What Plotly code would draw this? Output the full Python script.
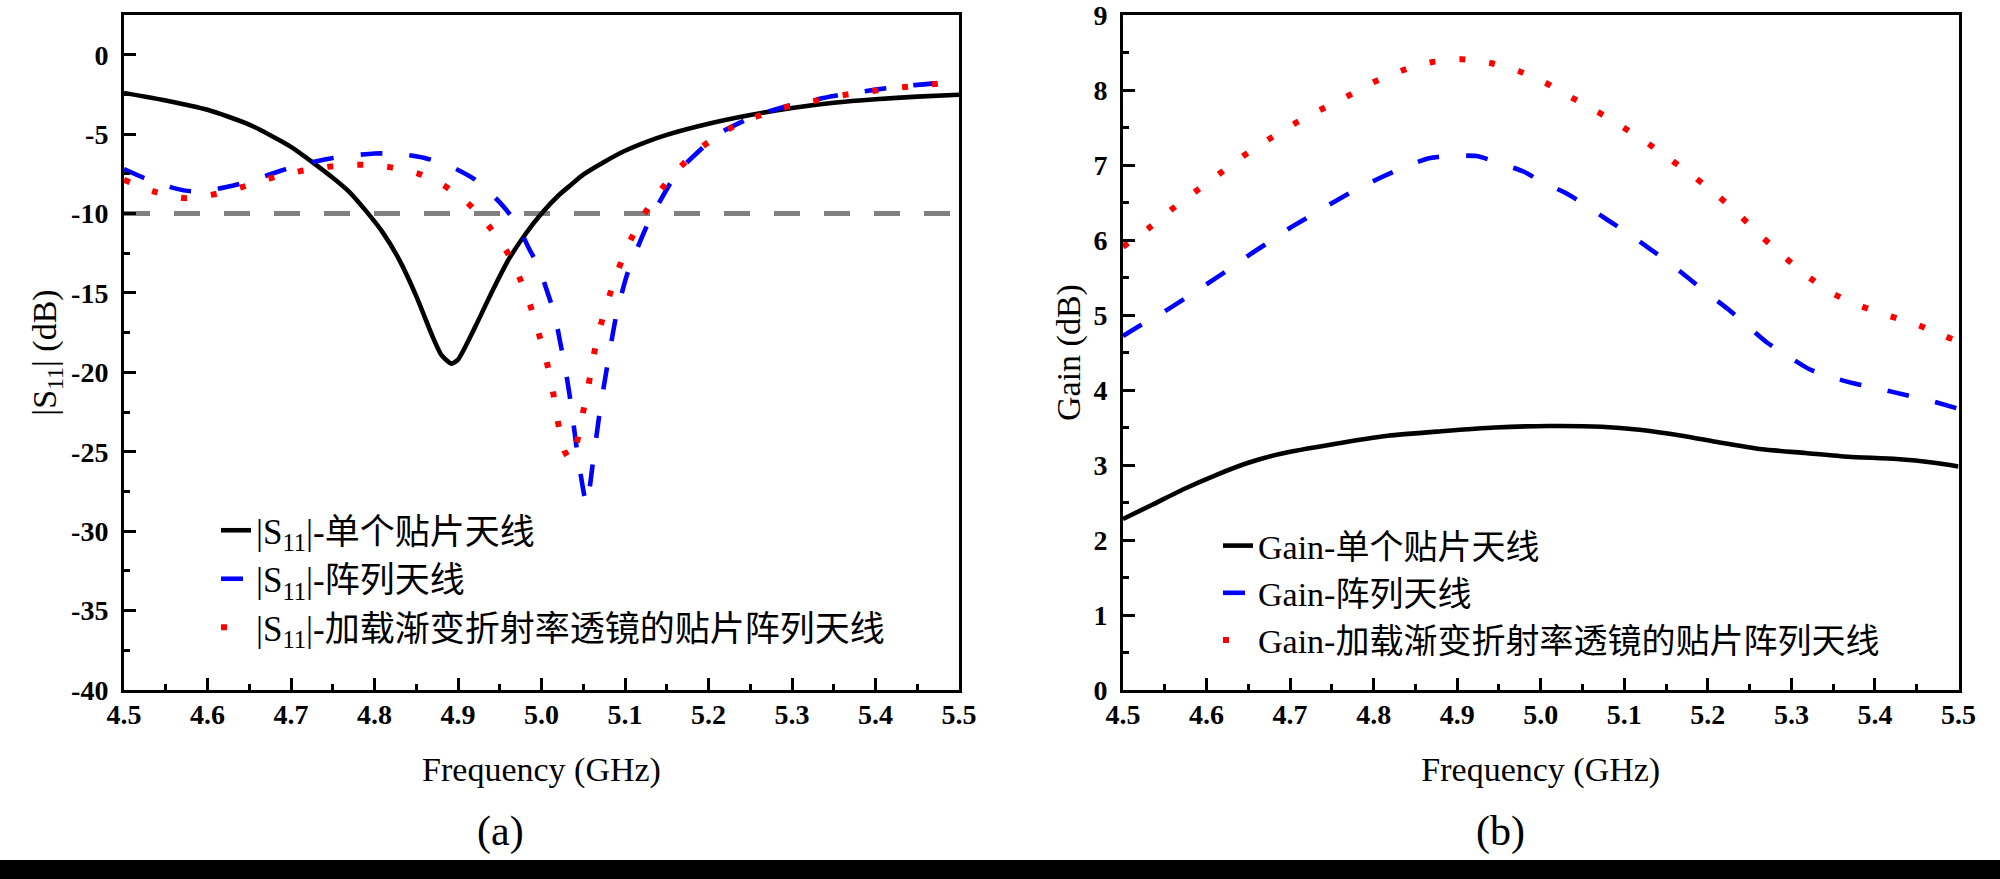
import plotly.graph_objects as go

# ---------------- data ----------------
# (a) |S11| (dB)
freq_s11_single = [4.50, 4.55, 4.60, 4.65, 4.70, 4.75, 4.77, 4.79, 4.81, 4.83, 4.85, 4.87, 4.88, 4.892,
                   4.90, 4.92, 4.94, 4.96, 4.98, 5.00, 5.02, 5.034, 5.05, 5.075, 5.10, 5.125, 5.15, 5.20, 5.25,
                   5.30, 5.35, 5.40, 5.45, 5.50]
s11_single = [-2.41, -2.88, -3.47, -4.4, -5.8, -7.75, -8.65, -9.85, -11.2, -12.95, -15.2, -17.8, -18.9, -19.45,
              -19.2, -17.2, -15.0, -12.95, -11.35, -10.0, -8.88, -8.25, -7.55, -6.75, -6.05, -5.5, -5.05, -4.35,
              -3.8, -3.35, -3.02, -2.8, -2.64, -2.52]

freq_s11_array = [4.50, 4.53, 4.56, 4.58, 4.60, 4.63, 4.66, 4.70, 4.75, 4.80, 4.83, 4.86, 4.89, 4.92, 4.95,
                  4.97, 4.985, 4.997, 5.008, 5.016, 5.022, 5.028, 5.035, 5.043, 5.054, 5.062, 5.07, 5.08,
                  5.09, 5.103, 5.126, 5.14, 5.162, 5.19, 5.214, 5.254, 5.30, 5.35, 5.40, 5.45, 5.50]
s11_array = [-7.2, -7.9, -8.4, -8.6, -8.55, -8.25, -7.8, -7.1, -6.5, -6.22, -6.25, -6.5, -7.0, -7.85, -9.3,
             -10.6, -12.2, -13.4, -15.1, -16.4, -18.0, -19.6, -21.9, -25.1, -28.3, -25.5, -22.4, -19.2,
             -16.3, -13.76, -10.8, -9.4, -7.46, -6.0, -4.93, -3.89, -3.15, -2.6, -2.2, -1.9, -1.68]

freq_s11_lens = [4.50, 4.535, 4.572, 4.607, 4.641, 4.676, 4.711, 4.747, 4.783, 4.818, 4.853, 4.883, 4.911,
                 4.937, 4.958, 4.974, 4.987, 4.997, 5.007, 5.014, 5.020, 5.028, 5.035, 5.042, 5.049, 5.056,
                 5.062, 5.070, 5.080, 5.091, 5.104, 5.120, 5.139, 5.161, 5.189, 5.220, 5.250, 5.286, 5.322,
                 5.357, 5.393, 5.427, 5.463, 5.50]
s11_lens = [-7.88, -8.6, -9.03, -8.8, -8.34, -7.77, -7.33, -7.04, -6.93, -7.08, -7.5, -8.23, -9.3,
            -10.8, -12.35, -14.07, -15.85, -17.6, -19.5, -21.3, -23.2, -25.0, -25.5, -24.5, -22.7, -20.9,
            -19.05, -17.2, -15.4, -13.65, -11.97, -10.3, -8.78, -7.35, -5.94, -4.79, -4.05, -3.38, -2.96,
            -2.58, -2.31, -2.08, -1.89, -1.68]

ref_freq = [4.5, 5.5]
ref_level = [-10, -10]

# (b) Gain (dB)
freq_gain_single = [4.50, 4.535, 4.573, 4.612, 4.650, 4.689, 4.753, 4.817, 4.881, 4.945, 5.009, 5.073, 5.118,
                    5.169, 5.214, 5.265, 5.317, 5.368, 5.426, 5.471, 5.50]
gain_single = [2.28, 2.47, 2.68, 2.87, 3.03, 3.15, 3.28, 3.39, 3.45, 3.50, 3.52, 3.51, 3.47,
               3.39, 3.30, 3.21, 3.16, 3.11, 3.08, 3.03, 2.98]

freq_gain_array = [4.50, 4.522, 4.550, 4.574, 4.600, 4.623, 4.651, 4.673, 4.701, 4.724, 4.753, 4.777, 4.808,
                   4.832, 4.866, 4.890, 4.923, 4.947, 4.980, 4.999, 5.031, 5.053, 5.081, 5.103, 5.131, 5.151,
                   5.177, 5.197, 5.224, 5.244, 5.270, 5.292, 5.321, 5.345, 5.378, 5.404, 5.438, 5.462, 5.50]
gain_array = [4.72, 4.87, 5.05, 5.22, 5.41, 5.58, 5.80, 5.96, 6.17, 6.32, 6.51, 6.66, 6.83,
              6.95, 7.09, 7.12, 7.12, 7.04, 6.91, 6.79, 6.62, 6.47, 6.26, 6.10, 5.88, 5.72,
              5.49, 5.31, 5.08, 4.89, 4.64, 4.48, 4.28, 4.18, 4.08, 4.02, 3.93, 3.87, 3.75]

freq_gain_lens = [4.50, 4.530, 4.557, 4.586, 4.615, 4.644, 4.674, 4.705, 4.737, 4.769, 4.801, 4.834, 4.869,
                  4.905, 4.940, 4.974, 5.005, 5.037, 5.068, 5.099, 5.128, 5.157, 5.185, 5.213, 5.239, 5.265,
                  5.292, 5.319, 5.349, 5.383, 5.417, 5.451, 5.483, 5.50]
gain_lens = [5.91, 6.15, 6.40, 6.64, 6.88, 7.12, 7.34, 7.55, 7.74, 7.92, 8.11, 8.26, 8.37,
             8.41, 8.36, 8.25, 8.10, 7.90, 7.71, 7.50, 7.29, 7.06, 6.83, 6.58, 6.32, 6.04,
             5.77, 5.52, 5.29, 5.12, 4.99, 4.87, 4.72, 4.65]

names_a = ["|S<sub>11</sub>|-单个贴片天线", "|S<sub>11</sub>|-阵列天线",
           "|S<sub>11</sub>|-加载渐变折射率透镜的贴片阵列天线"]
names_b = ["Gain-单个贴片天线", "Gain-阵列天线", "Gain-加载渐变折射率透镜的贴片阵列天线"]

freq_ticks = [4.5, 4.6, 4.7, 4.8, 4.9, 5.0, 5.1, 5.2, 5.3, 5.4, 5.5]
freq_ticktext = ["4.5", "4.6", "4.7", "4.8", "4.9", "5.0", "5.1", "5.2", "5.3", "5.4", "5.5"]
s11_ticks = [-40, -35, -30, -25, -20, -15, -10, -5, 0]
s11_ticktext = ["-40", "-35", "-30", "-25", "-20", "-15", "-10", "-5", "0"]
gain_ticks = [0, 1, 2, 3, 4, 5, 6, 7, 8, 9]
gain_ticktext = ["0", "1", "2", "3", "4", "5", "6", "7", "8", "9"]

# ---------------- styles ----------------
W, H = 2000, 879
SERIF = "Liberation Serif, Times New Roman, serif"
MIXED = "Liberation Serif, Noto Sans CJK SC, serif"
styles = [
    dict(color="#000000", width=4.6, dash="solid"),
    dict(color="#0000FF", width=4.6, dash="22px,27px"),
    dict(color="#FF0000", width=6, dash="6px,24px"),
]

fig = go.Figure()

fig.add_trace(go.Scatter(x=ref_freq, y=ref_level, mode="lines", showlegend=False,
                         line=dict(color="#808080", width=5, dash="26px,24px"),
                         xaxis="x", yaxis="y", hoverinfo="skip"))

for xs, ys, nm, st in zip([freq_s11_single, freq_s11_array, freq_s11_lens],
                          [s11_single, s11_array, s11_lens], names_a, styles):
    fig.add_trace(go.Scatter(x=xs, y=ys, name=nm, mode="lines",
                             line=dict(shape="spline", smoothing=0.6, **st),
                             xaxis="x", yaxis="y", legend="legend"))

for xs, ys, nm, st in zip([freq_gain_single, freq_gain_array, freq_gain_lens],
                          [gain_single, gain_array, gain_lens], names_b, styles):
    fig.add_trace(go.Scatter(x=xs, y=ys, name=nm, mode="lines",
                             line=dict(shape="spline", smoothing=0.6, **st),
                             xaxis="x2", yaxis="y2", legend="legend2"))


def px_x(p):
    return p / W


def px_y(p):
    return 1 - p / H


tickfont = dict(family=SERIF, size=28, color="black", weight=700)
minor_style = dict(ticks="inside", ticklen=6, tickwidth=2.5, tickcolor="black")
common = dict(showline=True, linewidth=3, linecolor="black", mirror=True, showgrid=False,
              zeroline=False, ticks="inside", ticklen=12, tickwidth=2.5, tickcolor="black",
              tickfont=tickfont, automargin=False, ticklabeloverflow="allow")
xcommon = dict(common, range=[4.5, 5.5], tickmode="array", tickvals=freq_ticks, ticktext=freq_ticktext,
               minor=dict(minor_style, dtick=0.05, tick0=4.5),
               ticklabelstandoff=-3,
               title=dict(text="Frequency (GHz)", font=dict(family=SERIF, size=34, color="black"),
                          standoff=29))

ydom = [px_y(690), px_y(15)]

fig.update_layout(
    width=W, height=H,
    margin=dict(l=0, r=0, t=0, b=0, pad=0, autoexpand=False),
    paper_bgcolor="white", plot_bgcolor="white",
    xaxis=dict(xcommon, domain=[px_x(124), px_x(959)], anchor="y"),
    yaxis=dict(common, domain=ydom, anchor="x", range=[-40, 2.5], tickmode="array",
               tickvals=s11_ticks, ticktext=s11_ticktext,
               minor=dict(minor_style, dtick=2.5, tick0=0),
               ticklabelstandoff=7,
               title=dict(text="|S<sub>11</sub>| (dB)", font=dict(family=SERIF, size=34, color="black"),
                          standoff=5)),
    xaxis2=dict(xcommon, domain=[px_x(1123), px_x(1958.5)], anchor="y2"),
    yaxis2=dict(common, domain=ydom, anchor="x2", range=[0, 9.0005], tickmode="array",
                tickvals=gain_ticks, ticktext=gain_ticktext,
                minor=dict(minor_style, dtick=0.5, tick0=0),
                ticklabelstandoff=7,
                title=dict(text="Gain (dB)", font=dict(family=SERIF, size=34, color="black"),
                           standoff=3)),
    legend=dict(x=px_x(216), y=px_y(501), xanchor="left", yanchor="top",
                bgcolor="rgba(0,0,0,0)", borderwidth=0,
                font=dict(family=MIXED, size=35, color="black")),
    legend2=dict(x=px_x(1218), y=px_y(517), xanchor="left", yanchor="top",
                 bgcolor="rgba(0,0,0,0)", borderwidth=0,
                 font=dict(family=MIXED, size=34, color="black")),
    annotations=[
        dict(text="(a)", x=0.25, y=px_y(831), xref="paper", yref="paper", showarrow=False,
             xanchor="center", yanchor="middle", font=dict(family=SERIF, size=42, color="black")),
        dict(text="(b)", x=0.75, y=px_y(831), xref="paper", yref="paper", showarrow=False,
             xanchor="center", yanchor="middle", font=dict(family=SERIF, size=42, color="black")),
    ],
    shapes=[dict(type="rect", xref="paper", yref="paper", x0=-0.05, x1=1.05, y0=-0.1, y1=px_y(860),
                 fillcolor="black", line=dict(width=0), layer="above")],
)

reset_css = ("var s=document.createElement('style');"
             "s.textContent='html,body{margin:0!important;padding:0!important;overflow:hidden!important;}';"
             "document.head.appendChild(s);"
             "document.documentElement.style.margin='0';document.body.style.margin='0';"
             "document.documentElement.style.overflow='hidden';document.body.style.overflow='hidden';")

fig.write_html("out.html", config={"displayModeBar": False}, post_script=reset_css)
